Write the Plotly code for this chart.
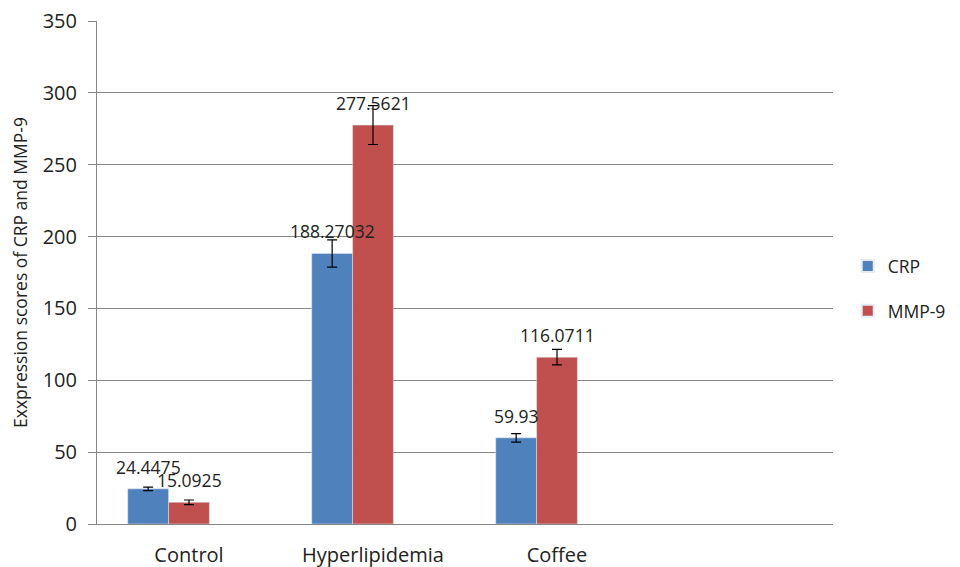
import plotly.graph_objects as go

categories = ["Control", "Hyperlipidemia", "Coffee"]
crp_values = [24.4475, 188.27032, 59.93]
mmp9_values = [15.0925, 277.5621, 116.0711]
crp_errors = [1.2, 9.5, 2.9]
mmp9_errors = [1.6, 13.5, 5.4]
crp_labels = ["24.4475", "188.27032", "59.93"]
mmp9_labels = ["15.0925", "277.5621", "116.0711"]

FONT = "Open Sans"
BAR_W = 0.222

fig = go.Figure()
fig.add_trace(go.Bar(
    name="CRP", x=categories, y=crp_values, marker_color="#4F81BD",
    width=BAR_W, offset=-0.333, legendgroup="a",
    error_y=dict(type="data", array=crp_errors, color="black", thickness=1.2, width=5),
))
fig.add_trace(go.Bar(
    name="MMP-9", x=categories, y=mmp9_values, marker_color="#C0504D",
    width=BAR_W, offset=-0.111, legendgroup="b",
    error_y=dict(type="data", array=mmp9_errors, color="black", thickness=1.2, width=5),
))

for i, (v, t) in enumerate(zip(crp_values, crp_labels)):
    fig.add_annotation(x=i - 0.222, y=v, text=t, showarrow=False, yanchor="middle",
                       yshift=22, font=dict(family=FONT, size=17.5, color="#222"))
for i, (v, t) in enumerate(zip(mmp9_values, mmp9_labels)):
    fig.add_annotation(x=i, y=v, text=t, showarrow=False, yanchor="middle",
                       yshift=22, font=dict(family=FONT, size=17.5, color="#222"))

fig.update_layout(
    width=952, height=559,
    margin=dict(l=89, r=127, t=13, b=43, autoexpand=False),
    paper_bgcolor="white", plot_bgcolor="white",
    font=dict(family=FONT, size=19, color="#222"),
    showlegend=True,
    legend=dict(x=1.02, y=0.468, xanchor="left", yanchor="middle",
                font=dict(size=17.5), tracegroupgap=19, itemsizing="constant",
                bgcolor="rgba(0,0,0,0)", borderwidth=0),
    xaxis=dict(type="category", categoryorder="array", categoryarray=categories,
               range=[-0.5, 3.5], showgrid=False, showline=True, linecolor="#868686",
               linewidth=1.3, ticks="", ticklabelstandoff=13, automargin=False,
               tickfont=dict(size=20)),
    yaxis=dict(range=[0, 350], dtick=50, showgrid=True, gridcolor="#868686",
               gridwidth=1, showline=True, linecolor="#868686", linewidth=1,
               ticks="outside", ticklen=8, tickcolor="#868686", zeroline=False,
               automargin=False, tickfont=dict(size=20), ticklabelstandoff=7,
               ticklabeloverflow="allow",
               title=dict(text="Exxpression scores of CRP and MMP-9", standoff=10,
                          font=dict(size=17.5))),
)

fig.write_html("out.html")
